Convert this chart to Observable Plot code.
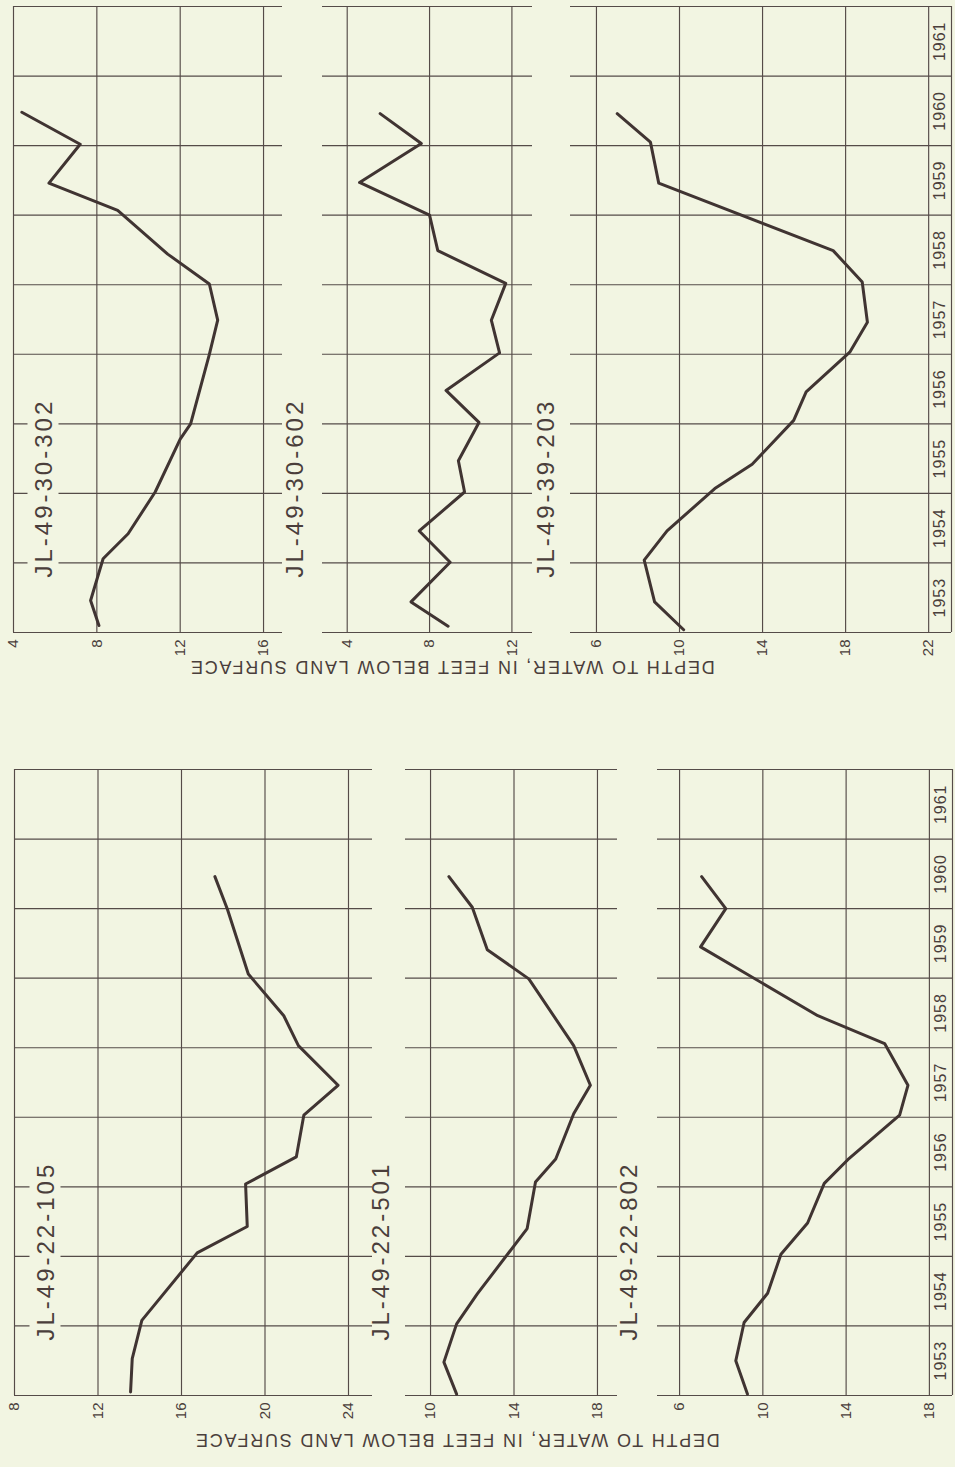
<!DOCTYPE html>
<html><head><meta charset="utf-8">
<script src="https://cdn.jsdelivr.net/npm/d3@7"></script>
<script src="https://cdn.jsdelivr.net/npm/@observablehq/plot@0.6"></script>
<style>
html,body{margin:0;padding:0;background:#f2f5e2;}
#page{position:relative;width:955px;height:1467px;overflow:hidden;background:#f2f5e2;font-family:"Liberation Sans",Arial,sans-serif;}
#page svg{position:absolute;}
.title{position:absolute;white-space:nowrap;font-size:18px;letter-spacing:1.8px;color:#4a3e3b;transform:translate(-50%,-50%) rotate(180deg);}
svg g[font-size="24"] text{letter-spacing:3px;}
svg g[font-size="16"] text{letter-spacing:1px;}
</style></head>
<body><div id="page"></div>
<script>
// ---- data: [year (decimal), depth to water in feet] ----
const well_30_302 = [[1953.10,8.1],[1953.46,7.7],[1954.06,8.3],[1954.42,9.5],[1955.02,10.8],[1955.78,12.0],[1956.00,12.5],[1957.00,13.4],[1957.49,13.8],[1958.01,13.4],[1958.44,11.4],[1959.07,9.0],[1959.46,5.7],[1960.02,7.2],[1960.48,4.4]];
const well_30_602 = [[1953.09,8.9],[1953.44,7.1],[1954.01,9.0],[1954.46,7.5],[1955.02,9.7],[1955.47,9.4],[1956.02,10.4],[1956.48,8.8],[1957.02,11.4],[1957.49,11.0],[1958.02,11.7],[1958.49,8.4],[1959.00,8.0],[1959.47,4.6],[1960.03,7.6],[1960.46,5.6]];
const well_39_203 = [[1953.04,10.2],[1953.44,8.8],[1954.04,8.3],[1954.46,9.4],[1955.07,11.7],[1955.42,13.5],[1956.05,15.5],[1956.46,16.1],[1957.03,18.2],[1957.46,19.05],[1958.04,18.8],[1958.49,17.4],[1959.46,9.0],[1960.05,8.6],[1960.46,7.0]];
const well_22_105 = [[1953.05,13.56],[1953.53,13.64],[1954.08,14.1],[1955.05,16.75],[1955.43,19.15],[1956.04,19.07],[1956.43,21.5],[1957.03,21.86],[1957.46,23.5],[1958.03,21.6],[1958.46,20.9],[1959.06,19.2],[1959.99,18.2],[1960.46,17.6]];
const well_22_501 = [[1953.02,11.25],[1953.48,10.64],[1954.03,11.25],[1954.46,12.24],[1955.40,14.63],[1956.07,15.03],[1956.40,16.0],[1957.05,16.86],[1957.46,17.66],[1958.03,16.86],[1958.99,14.71],[1959.41,12.72],[1960.02,12.0],[1960.46,10.88]];
const well_22_802 = [[1953.02,9.26],[1953.50,8.7],[1954.05,9.1],[1954.47,10.23],[1955.03,10.87],[1955.48,12.15],[1956.05,12.95],[1956.39,14.08],[1957.03,16.57],[1957.46,16.97],[1958.06,15.85],[1958.46,12.64],[1959.45,7.01],[1960.00,8.22],[1960.46,7.06]];

const yearLines = [1953,1954,1955,1956,1957,1958,1959,1960,1961,1962];
const yearLabels = [1953,1954,1955,1956,1957,1958,1959,1960,1961];
const ticks_30_302 = [4,8,12,16];
const ticks_30_602 = [4,8,12];
const ticks_39_203 = [6,10,14,18,22];
const ticks_22_105 = [8,12,16,20,24];
const ticks_22_501 = [10,14,18];
const ticks_22_802 = [6,10,14,18];
const axisTitle = "DEPTH TO WATER, IN FEET BELOW LAND SURFACE";

// ---- layout ----
const bg = "#f2f5e2", grid = "#554b48", ink = "#4a3e3b", lineColor = "#403432";
const halves = {top: {y0: 632, y1: 6}, bottom: {y0: 1395, y1: 769}};
const panels = [
  {name: "JL-49-30-302", data: well_30_302, ticks: ticks_30_302, half: "top", domain: [4, 16.91], px: [13, 282], labelDx: 38, boxed: true},
  {name: "JL-49-30-602", data: well_30_602, ticks: ticks_30_602, half: "top", domain: [2.8, 13.0], px: [322, 532], labelDx: -20},
  {name: "JL-49-39-203", data: well_39_203, ticks: ticks_39_203, half: "top", domain: [4.75, 23.1], px: [570, 951], labelDx: -17, years: true},
  {name: "JL-49-22-105", data: well_22_105, ticks: ticks_22_105, half: "bottom", domain: [8, 25.15], px: [14, 372], labelDx: 39, boxed: true},
  {name: "JL-49-22-501", data: well_22_501, ticks: ticks_22_501, half: "bottom", domain: [8.8, 18.96], px: [405, 617], labelDx: -17},
  {name: "JL-49-22-802", data: well_22_802, ticks: ticks_22_802, half: "bottom", domain: [4.94, 19.11], px: [657, 952], labelDx: -21, years: true}
];

const page = document.getElementById("page");

for (const p of panels) {
  const H = halves[p.half];
  const mL = 44, mR = 6, mT = 6, mB = 40;
  const w = p.px[1] - p.px[0] + mL + mR;
  const h = H.y0 - H.y1 + mT + mB;
  const lastTick = p.ticks[p.ticks.length - 1];
  const verticals = p.years ? [...p.ticks, p.domain[1]] : p.ticks;
  const marks = [
    Plot.ruleY(yearLines, {stroke: grid, strokeWidth: 1.15}),
    Plot.ruleX(verticals, {stroke: grid, strokeWidth: 1.15}),
    Plot.text(p.ticks, {x: d => d, y: 1953, text: d => String(d), rotate: -90, textAnchor: "end", dy: 7, fontSize: 15, fill: ink}),
    Plot.line(p.data, {x: d => d[1], y: d => d[0], stroke: lineColor, strokeWidth: 3, strokeLinejoin: "round", strokeLinecap: "round"}),
    Plot.text([p.name], {frameAnchor: "bottom-left", dx: p.labelDx, dy: -55, rotate: -90, textAnchor: "start", fontSize: 24, fill: ink})
  ];
  if (p.years) {
    marks.push(Plot.text(yearLabels, {x: (lastTick + p.domain[1]) / 2, y: d => d + 0.5, text: d => String(d), rotate: -90, fontSize: 16, fill: ink}));
  }
  const svg = Plot.plot({
    width: w, height: h,
    marginLeft: mL, marginRight: mR, marginTop: mT, marginBottom: mB,
    x: {domain: p.domain, axis: null},
    y: {domain: [1953, 1962], axis: null},
    style: {background: "transparent", overflow: "visible", fontFamily: "'Liberation Sans', Arial, sans-serif", maxWidth: "none"},
    marks
  });
  svg.style.left = (p.px[0] - mL) + "px";
  svg.style.top = (H.y1 - mT) + "px";
  page.appendChild(svg);
  if (p.boxed) {
    svg.querySelectorAll('g[font-size="24"] text').forEach(t => {
      const b = t.getBBox();
      const r = document.createElementNS("http://www.w3.org/2000/svg", "rect");
      r.setAttribute("x", b.x - 2);
      r.setAttribute("y", b.y - 2);
      r.setAttribute("width", b.width + 4);
      r.setAttribute("height", b.height + 4);
      r.setAttribute("fill", bg);
      const tr = t.getAttribute("transform");
      if (tr) r.setAttribute("transform", tr);
      t.parentNode.insertBefore(r, t);
    });
  }
}

for (const [cx, cy] of [[452, 666], [457, 1439]]) {
  const d = document.createElement("div");
  d.className = "title";
  d.style.left = cx + "px";
  d.style.top = cy + "px";
  d.textContent = axisTitle;
  page.appendChild(d);
}
</script></body></html>
